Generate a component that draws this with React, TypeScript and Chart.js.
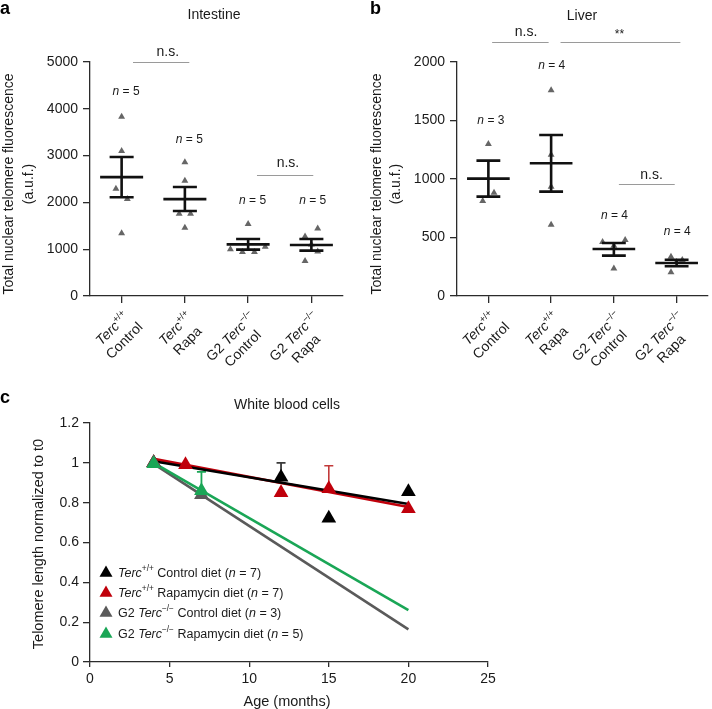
import React, { useEffect, useRef } from 'react';
import { Chart, registerables } from 'chart.js';
Chart.register(...registerables);

const FONT = '"Liberation Sans", Arial, Helvetica, sans-serif';
const AXIS = '#2b2b2b';
const TEXT = '#1a1a1a';

type Seg = { t: string; i?: boolean; sup?: boolean };

// ---------- Panel a: Intestine ----------
const intestineValues = [
  [3830, 3100, 2290, 2070, 1340],
  [2860, 2460, 1760, 1760, 1460],
  [1540, 1000, 940, 940, 1050],
  [1440, 1270, 1100, 950, 750],
];
const intestineJitter = [
  [0, 0, -0.09, 0.09, 0],
  [0, 0, -0.09, 0.09, 0],
  [0, -0.28, -0.09, 0.1, 0.27],
  [0.1, -0.1, 0, 0.1, -0.1],
];
const intestineMean = [2540, 2070, 1104, 1090];
const intestineSemHigh = [2970, 2330, 1218, 1218];
const intestineSemLow = [2110, 1815, 990, 970];
const intestineN = ['5', '5', '5', '5'];

// ---------- Panel b: Liver ----------
const liverValues = [
  [1300, 883, 812],
  [1758, 1208, 934, 610],
  [462, 479, 236, 430],
  [336, 308, 290, 202],
];
const liverJitter = [
  [0, 0.09, -0.09],
  [0, 0, 0, 0],
  [-0.18, 0.18, 0, 0],
  [-0.09, 0.09, 0, -0.09],
];
const liverMean = [1003, 1134, 402, 282];
const liverSemHigh = [1157, 1376, 453, 310];
const liverSemLow = [849, 892, 345, 254];
const liverN = ['3', '4', '4', '4'];

// group labels
const groupLine1: Seg[][] = [
  [{ t: 'Terc', i: true }, { t: '+/+', sup: true }],
  [{ t: 'Terc', i: true }, { t: '+/+', sup: true }],
  [{ t: 'G2 ' }, { t: 'Terc', i: true }, { t: '\u2212/\u2212', sup: true }],
  [{ t: 'G2 ' }, { t: 'Terc', i: true }, { t: '\u2212/\u2212', sup: true }],
];
const groupLine2 = ['Control', 'Rapa', 'Control', 'Rapa'];

// ---------- Panel c: White blood cells ----------
const wtControlAge = [4, 12, 15, 20];
const wtControlVal = [1.0, 0.927, 0.722, 0.855];
const wtRapaAge = [4, 6, 12, 15, 20];
const wtRapaVal = [1.0, 0.99, 0.85, 0.87, 0.77];
const g2ControlAge = [4, 7];
const g2ControlVal = [1.0, 0.84];
const g2RapaAge = [4, 7];
const g2RapaVal = [0.995, 0.86];

const fitAge = [4, 20];
const wtControlFit = [1.008, 0.793];
const wtRapaFit = [1.02, 0.778];
const g2ControlFit = [0.995, 0.164];
const g2RapaFit = [1.0, 0.26];

// error bars (upper only)
const wtControlErrAge = [12];
const wtControlErrVal = [0.927];
const wtControlErrHigh = [1.0];
const wtRapaErrAge = [15];
const wtRapaErrVal = [0.87];
const wtRapaErrHigh = [0.985];
const g2RapaErrAge = [7];
const g2RapaErrVal = [0.86];
const g2RapaErrHigh = [0.955];

const COL_BLACK = '#000000';
const COL_RED = '#c0000b';
const COL_GRAY = '#5a5a5a';
const COL_GREEN = '#1aa656';

const legendRows: Seg[][] = [
  [{ t: 'Terc', i: true }, { t: '+/+', sup: true }, { t: ' Control diet (' }, { t: 'n', i: true }, { t: ' = 7)' }],
  [{ t: 'Terc', i: true }, { t: '+/+', sup: true }, { t: ' Rapamycin diet (' }, { t: 'n', i: true }, { t: ' = 7)' }],
  [{ t: 'G2 ' }, { t: 'Terc', i: true }, { t: '\u2212/\u2212', sup: true }, { t: ' Control diet (' }, { t: 'n', i: true }, { t: ' = 3)' }],
  [{ t: 'G2 ' }, { t: 'Terc', i: true }, { t: '\u2212/\u2212', sup: true }, { t: ' Rapamycin diet (' }, { t: 'n', i: true }, { t: ' = 5)' }],
];
const legendColors = [COL_BLACK, COL_RED, COL_GRAY, COL_GREEN];

// ---------- helpers ----------
function fontOf(s: Seg, size: number) {
  const sz = s.sup ? size * 0.66 : size;
  return `${s.i ? 'italic ' : ''}${sz}px ${FONT}`;
}
function richWidth(ctx: CanvasRenderingContext2D, segs: Seg[], size: number) {
  let w = 0;
  for (const s of segs) {
    ctx.font = fontOf(s, size);
    w += ctx.measureText(s.t).width;
  }
  return w;
}
function drawRich(
  ctx: CanvasRenderingContext2D,
  segs: Seg[],
  x: number,
  y: number,
  size: number,
  align: 'left' | 'center' | 'right',
  color: string
) {
  const w = richWidth(ctx, segs, size);
  let cx = align === 'left' ? x : align === 'center' ? x - w / 2 : x - w;
  ctx.textAlign = 'left';
  ctx.textBaseline = 'alphabetic';
  ctx.fillStyle = color;
  for (const s of segs) {
    ctx.font = fontOf(s, size);
    ctx.fillText(s.t, cx, s.sup ? y - size * 0.42 : y);
    cx += ctx.measureText(s.t).width;
  }
}
function drawTri(ctx: CanvasRenderingContext2D, x: number, y: number, r: number, color: string) {
  ctx.beginPath();
  for (let k = 0; k < 3; k++) {
    const a = (k * 2 * Math.PI) / 3;
    const px = x + Math.sin(a) * r;
    const py = y - Math.cos(a) * r;
    if (k === 0) ctx.moveTo(px, py);
    else ctx.lineTo(px, py);
  }
  ctx.closePath();
  ctx.fillStyle = color;
  ctx.fill();
}
function drawText(ctx: CanvasRenderingContext2D, t: string, x: number, y: number, size: number, opts: any = {}) {
  ctx.save();
  ctx.font = `${opts.bold ? 'bold ' : ''}${size}px ${FONT}`;
  ctx.fillStyle = opts.color || TEXT;
  ctx.textAlign = opts.align || 'center';
  ctx.textBaseline = opts.baseline || 'middle';
  if (opts.rot) {
    ctx.translate(x, y);
    ctx.rotate(opts.rot);
    ctx.fillText(t, 0, 0);
  } else ctx.fillText(t, x, y);
  ctx.restore();
}

interface Sig { x1: number; x2: number; y: number; label: string; lx: number; ly: number }
interface DotPanel {
  left: number; top: number; width: number; height: number;
  axisLeft: number; axisRight: number; axisTop: number; axisBottom: number;
  values: number[][]; jitter: number[][]; mean: number[]; hi: number[]; lo: number[];
  yMax: number; yStep: number;
  nText: string[]; nX: number[]; nY: number[];
  sigs: Sig[];
  title: string; titleX: number; titleY: number;
  letter: string; letterX: number; letterY: number;
  yTitleX1: number; yTitleX2: number; yTitleY: number;
}

const panelA: DotPanel = {
  left: 0, top: 0, width: 352, height: 390,
  axisLeft: 90, axisRight: 343, axisTop: 62, axisBottom: 296,
  values: intestineValues, jitter: intestineJitter, mean: intestineMean, hi: intestineSemHigh, lo: intestineSemLow,
  yMax: 5000, yStep: 1000,
  nText: intestineN, nX: [1.07, 2.07, 3.07, 4.02], nY: [4380, 3355, 2050, 2050],
  sigs: [
    { x1: 1.18, x2: 2.07, y: 5000, label: 'n.s.', lx: 1.73, ly: 5214 },
    { x1: 3.14, x2: 4.03, y: 2585, label: 'n.s.', lx: 3.63, ly: 2842 },
  ],
  title: 'Intestine', titleX: 214, titleY: 15,
  letter: 'a', letterX: 0, letterY: 9,
  yTitleX1: 9, yTitleX2: 29, yTitleY: 184,
};

const panelB: DotPanel = {
  left: 352, top: 0, width: 360, height: 390,
  axisLeft: 457, axisRight: 711, axisTop: 62, axisBottom: 296,
  values: liverValues, jitter: liverJitter, mean: liverMean, hi: liverSemHigh, lo: liverSemLow,
  yMax: 2000, yStep: 500,
  nText: liverN, nX: [1.04, 2.01, 3.01, 4.01], nY: [1504, 1974, 692, 556],
  sigs: [
    { x1: 1.06, x2: 1.96, y: 2171, label: 'n.s.', lx: 1.6, ly: 2256 },
    { x1: 2.15, x2: 4.06, y: 2171, label: '**', lx: 3.09, ly: 2235 },
    { x1: 3.08, x2: 3.97, y: 957, label: 'n.s.', lx: 3.6, ly: 1034 },
  ],
  title: 'Liver', titleX: 582, titleY: 16,
  letter: 'b', letterX: 370, letterY: 9,
  yTitleX1: 377, yTitleX2: 396, yTitleY: 184,
};

function makeDotChart(canvas: HTMLCanvasElement, p: DotPanel) {
  const points: { x: number; y: number }[] = [];
  p.values.forEach((arr, g) => arr.forEach((v, k) => points.push({ x: g + 1 + p.jitter[g][k], y: v })));
  const ox = p.left, oy = p.top;
  const overlay = {
    id: 'dotOverlay',
    afterDatasetsDraw(chart: any) {
      const ctx = chart.ctx as CanvasRenderingContext2D;
      const xs = chart.scales.x, ys = chart.scales.y;
      ctx.save();
      ctx.strokeStyle = '#111';
      ctx.lineWidth = 2.6;
      p.mean.forEach((m, i) => {
        const c = i + 1;
        const ym = ys.getPixelForValue(m), yh = ys.getPixelForValue(p.hi[i]), yl = ys.getPixelForValue(p.lo[i]);
        ctx.beginPath();
        ctx.moveTo(xs.getPixelForValue(c - 0.34), ym);
        ctx.lineTo(xs.getPixelForValue(c + 0.34), ym);
        ctx.moveTo(xs.getPixelForValue(c), yh);
        ctx.lineTo(xs.getPixelForValue(c), yl);
        ctx.moveTo(xs.getPixelForValue(c - 0.19), yh);
        ctx.lineTo(xs.getPixelForValue(c + 0.19), yh);
        ctx.moveTo(xs.getPixelForValue(c - 0.19), yl);
        ctx.lineTo(xs.getPixelForValue(c + 0.19), yl);
        ctx.stroke();
      });
      ctx.restore();
    },
    afterDraw(chart: any) {
      const ctx = chart.ctx as CanvasRenderingContext2D;
      const xs = chart.scales.x, ys = chart.scales.y;
      drawText(ctx, p.letter, p.letterX - ox, p.letterY - oy, 18, { bold: true, align: 'left', color: '#000' });
      drawText(ctx, p.title, p.titleX - ox, p.titleY - oy, 14);
      drawText(ctx, 'Total nuclear telomere fluorescence', p.yTitleX1 - ox, p.yTitleY - oy, 14, { rot: -Math.PI / 2 });
      drawText(ctx, '(a.u.f.)', p.yTitleX2 - ox, p.yTitleY - oy, 14, { rot: -Math.PI / 2 });
      p.nText.forEach((n, i) => {
        const x = xs.getPixelForValue(p.nX[i]);
        const y = ys.getPixelForValue(p.nY[i]) + 4;
        drawRich(ctx, [{ t: 'n', i: true }, { t: ' = ' + n }], x, y, 12, 'center', TEXT);
      });
      ctx.save();
      ctx.strokeStyle = '#9a9a9a';
      ctx.lineWidth = 1;
      p.sigs.forEach((s) => {
        const y = Math.round(ys.getPixelForValue(s.y)) + 0.5;
        ctx.beginPath();
        ctx.moveTo(xs.getPixelForValue(s.x1), y);
        ctx.lineTo(xs.getPixelForValue(s.x2), y);
        ctx.stroke();
        drawText(ctx, s.label, xs.getPixelForValue(s.lx), ys.getPixelForValue(s.ly), s.label === '**' ? 12 : 14);
      });
      ctx.restore();
      // rotated group labels
      const by = chart.chartArea.bottom;
      groupLine1.forEach((l1, i) => {
        const px = xs.getPixelForValue(i + 1);
        ctx.save();
        ctx.translate(px + 3, by + 4);
        ctx.rotate(-Math.PI / 4);
        const w1 = richWidth(ctx, l1, 14);
        const c1 = -9 - w1 / 2;
        drawRich(ctx, l1, c1, 16, 14, 'center', TEXT);
        drawRich(ctx, [{ t: groupLine2[i] }], c1, 33, 14, 'center', TEXT);
        ctx.restore();
      });
    },
  };
  return new Chart(canvas, {
    type: 'scatter',
    data: {
      datasets: [
        {
          data: points,
          pointStyle: 'triangle',
          pointRadius: 4,
          backgroundColor: '#666666',
          borderColor: '#666666',
          borderWidth: 0,
        },
      ],
    },
    options: {
      animation: false,
      responsive: false,
      devicePixelRatio: 1,
      layout: {
        padding: { top: p.axisTop - oy, right: ox + p.width - p.axisRight, bottom: 0, left: 0 },
      },
      plugins: { legend: { display: false }, tooltip: { enabled: false } },
      scales: {
        x: {
          type: 'linear',
          min: 0.5,
          max: 4.5,
          afterBuildTicks: (s: any) => {
            s.ticks = [1, 2, 3, 4].map((v) => ({ value: v }));
          },
          afterFit: (s: any) => {
            s.height = oy + p.height - p.axisBottom;
          },
          ticks: { callback: () => '', padding: 0 },
          grid: { drawOnChartArea: false, drawTicks: true, tickLength: 7, color: AXIS, lineWidth: 1.3 },
          border: { color: AXIS, width: 1.3 },
        },
        y: {
          min: 0,
          max: p.yMax,
          afterFit: (s: any) => {
            s.width = p.axisLeft - ox;
          },
          ticks: {
            stepSize: p.yStep,
            color: TEXT,
            font: { size: 14, family: FONT },
            padding: 5,
            callback: (v: any) => String(Math.round(Number(v))),
          },
          grid: { drawOnChartArea: false, drawTicks: true, tickLength: 7, color: AXIS, lineWidth: 1.3 },
          border: { color: AXIS, width: 1.3 },
        },
      },
    } as any,
    plugins: [overlay as any],
  });
}

// ---------- Panel c ----------
const C_LEFT = 0, C_TOP = 390, C_W = 712, C_H = 319;
const C_AXL = 90, C_AXR = 488, C_AXT = 423, C_AXB = 662;

function zip(a: number[], b: number[]) {
  return a.map((x, i) => ({ x, y: b[i] }));
}

function makeLineChart(canvas: HTMLCanvasElement) {
  const oy = C_TOP;
  const errSets = [
    { age: wtControlErrAge, val: wtControlErrVal, hi: wtControlErrHigh, color: '#3a3a3a', w: 1.8 },
    { age: wtRapaErrAge, val: wtRapaErrVal, hi: wtRapaErrHigh, color: '#c23a3a', w: 1.6 },
    { age: g2RapaErrAge, val: g2RapaErrVal, hi: g2RapaErrHigh, color: COL_GREEN, w: 1.8 },
  ];
  const overlay = {
    id: 'wbcOverlay',
    beforeDatasetsDraw(chart: any) {
      const ctx = chart.ctx as CanvasRenderingContext2D;
      const xs = chart.scales.x, ys = chart.scales.y;
      ctx.save();
      errSets.forEach((e) => {
        ctx.strokeStyle = e.color;
        ctx.lineWidth = e.w;
        e.age.forEach((a, i) => {
          const x = xs.getPixelForValue(a);
          const y0 = ys.getPixelForValue(e.val[i]);
          const y1 = ys.getPixelForValue(e.hi[i]);
          ctx.beginPath();
          ctx.moveTo(x, y0);
          ctx.lineTo(x, y1);
          ctx.moveTo(x - 4.5, y1);
          ctx.lineTo(x + 4.5, y1);
          ctx.stroke();
        });
      });
      ctx.restore();
    },
    afterDraw(chart: any) {
      const ctx = chart.ctx as CanvasRenderingContext2D;
      drawText(ctx, 'c', 0, 398 - oy, 18, { bold: true, align: 'left', color: '#000' });
      drawText(ctx, 'White blood cells', 287, 405 - oy, 14);
      drawText(ctx, 'Telomere length normalized to t0', 38.5, 544 - oy, 14.5, { rot: -Math.PI / 2 });
      drawText(ctx, 'Age (months)', 287, 702 - oy, 14.5);
      const rowY = [572, 592, 612, 633];
      legendRows.forEach((segs, i) => {
        const y = rowY[i] - oy;
        drawTri(ctx, 106, y + 1, 7.5, legendColors[i]);
        drawRich(ctx, segs, 118, y + 4.5, 12.5, 'left', TEXT);
      });
    },
  };
  const pointDs = (data: any, color: string) => ({
    type: 'scatter',
    data,
    pointStyle: 'triangle',
    pointRadius: 8.5,
    backgroundColor: color,
    borderColor: color,
    borderWidth: 0,
    showLine: false,
  });
  const lineDs = (data: any, color: string) => ({
    type: 'scatter',
    data,
    showLine: true,
    borderColor: color,
    borderWidth: 2.6,
    pointRadius: 0,
    fill: false,
  });
  return new Chart(canvas, {
    type: 'scatter',
    data: {
      datasets: [
        pointDs(zip(g2RapaAge, g2RapaVal), COL_GREEN),
        pointDs(zip(g2ControlAge, g2ControlVal), COL_GRAY),
        pointDs(zip(wtRapaAge, wtRapaVal), COL_RED),
        pointDs(zip(wtControlAge, wtControlVal), COL_BLACK),
        lineDs(zip(fitAge, wtControlFit), COL_BLACK),
        lineDs(zip(fitAge, wtRapaFit), COL_RED),
        lineDs(zip(fitAge, g2RapaFit), COL_GREEN),
        lineDs(zip(fitAge, g2ControlFit), COL_GRAY),
      ] as any,
    },
    options: {
      animation: false,
      responsive: false,
      devicePixelRatio: 1,
      layout: { padding: { top: C_AXT - oy, right: C_LEFT + C_W - C_AXR, bottom: 0, left: 0 } },
      plugins: { legend: { display: false }, tooltip: { enabled: false } },
      scales: {
        x: {
          type: 'linear',
          min: 0,
          max: 25,
          afterFit: (s: any) => {
            s.height = oy + C_H - C_AXB;
          },
          ticks: { stepSize: 5, color: TEXT, font: { size: 14, family: FONT }, padding: 4 },
          grid: { drawOnChartArea: false, drawTicks: true, tickLength: 5, color: AXIS, lineWidth: 1.3 },
          border: { color: AXIS, width: 1.3 },
        },
        y: {
          min: 0,
          max: 1.2,
          afterFit: (s: any) => {
            s.width = C_AXL - C_LEFT;
          },
          ticks: {
            stepSize: 0.2,
            color: TEXT,
            font: { size: 14, family: FONT },
            padding: 4,
            callback: (v: any) => String(Math.round(Number(v) * 10) / 10),
          },
          grid: { drawOnChartArea: false, drawTicks: true, tickLength: 7, color: AXIS, lineWidth: 1.3 },
          border: { color: AXIS, width: 1.3 },
        },
      },
    } as any,
    plugins: [overlay as any],
  });
}

export default function App() {
  const refA = useRef<HTMLCanvasElement>(null);
  const refB = useRef<HTMLCanvasElement>(null);
  const refC = useRef<HTMLCanvasElement>(null);
  useEffect(() => {
    const a = makeDotChart(refA.current!, panelA);
    const b = makeDotChart(refB.current!, panelB);
    const c = makeLineChart(refC.current!);
    return () => {
      a.destroy();
      b.destroy();
      c.destroy();
    };
  }, []);
  return (
    <div style={{ position: 'absolute', left: 0, top: 0, width: 712, height: 709, background: '#fff', overflow: 'hidden' }}>
      <canvas ref={refA} width={panelA.width} height={panelA.height}
        style={{ position: 'absolute', left: panelA.left, top: panelA.top, width: panelA.width, height: panelA.height }} />
      <canvas ref={refB} width={panelB.width} height={panelB.height}
        style={{ position: 'absolute', left: panelB.left, top: panelB.top, width: panelB.width, height: panelB.height }} />
      <canvas ref={refC} width={C_W} height={C_H}
        style={{ position: 'absolute', left: C_LEFT, top: C_TOP, width: C_W, height: C_H }} />
    </div>
  );
}
